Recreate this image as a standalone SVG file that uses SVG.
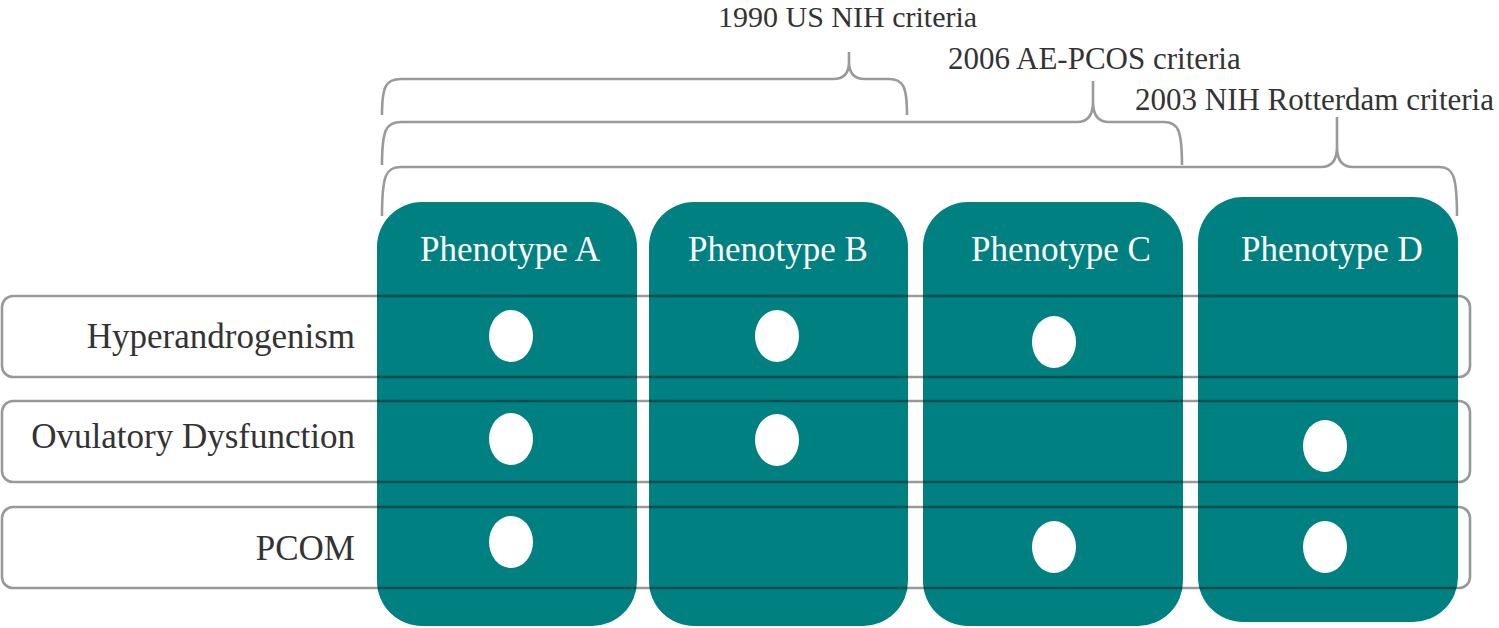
<svg xmlns="http://www.w3.org/2000/svg" width="1499" height="628" viewBox="0 0 1499 628">
<style>
.brace{fill:none;stroke:#9a9a9a;stroke-width:2.6;stroke-linecap:butt}
.crit{font-family:"Liberation Serif","Times New Roman",serif;font-size:31px;fill:#333}
.col{fill:#008080}
.ph{font-family:"Liberation Serif","Times New Roman",serif;font-size:35px;fill:#fff;text-anchor:middle}
.row{fill:none;stroke:#000;stroke-opacity:0.4;stroke-width:2.6}
.lbl{font-family:"Liberation Serif","Times New Roman",serif;font-size:35px;fill:#333;text-anchor:end}
.dot{fill:#fff}
</style>
<rect width="1499" height="628" fill="#fff"/>
<g id="connectors">
<path class="brace" d="M382,115 C382,86 386,79 401,79 L833,79 C845,79 849,72 849,62 L849,52 M849,62 C849,72 853,79 865,79 L889,79 C903,79 907,86 907,115"/>
<path class="brace" d="M382,165 C382,130 386,122 401,122 L1077,122 C1089,122 1093,114 1093,102 L1093,81 M1093,102 C1093,114 1097,122 1109,122 L1164,122 C1178,122 1182,130 1182,165"/>
<path class="brace" d="M382,216 C382,175 386,167 401,167 L1321,167 C1333,167 1337,159 1337,147 L1337,117 M1337,147 C1337,159 1341,167 1353,167 L1439,167 C1453,167 1457,175 1457,216"/>
</g>
<g id="criteria-labels">
<text class="crit" x="718" y="27" style="font-size:30px">1990 US NIH criteria</text>
<text class="crit" x="948" y="69">2006 AE-PCOS criteria</text>
<text class="crit" x="1135" y="110">2003 NIH Rotterdam criteria</text>
</g>
<g id="phenotype-A">
<rect class="col" x="377" y="202" width="260" height="424" rx="45" ry="45"/>
<text class="ph" x="510" y="261">Phenotype A</text>
</g>
<g id="phenotype-B">
<rect class="col" x="649" y="202" width="259" height="424" rx="45" ry="45"/>
<text class="ph" x="778" y="261">Phenotype B</text>
</g>
<g id="phenotype-C">
<rect class="col" x="923" y="202" width="260" height="424" rx="45" ry="45"/>
<text class="ph" x="1061" y="261">Phenotype C</text>
</g>
<g id="phenotype-D">
<rect class="col" x="1198" y="197" width="260" height="425" rx="45" ry="45"/>
<text class="ph" x="1332" y="261">Phenotype D</text>
</g>
<g id="row-hyperandrogenism">
<rect class="row" x="2" y="296" width="1468" height="81" rx="11" ry="11"/>
<text class="lbl" x="355" y="348">Hyperandrogenism</text>
</g>
<g id="row-ovulatory">
<rect class="row" x="2" y="401" width="1468" height="81" rx="11" ry="11"/>
<text class="lbl" x="355" y="448">Ovulatory Dysfunction</text>
</g>
<g id="row-pcom">
<rect class="row" x="2" y="507" width="1468" height="81" rx="11" ry="11"/>
<text class="lbl" x="355" y="560">PCOM</text>
</g>
<g id="dots">
<ellipse class="dot" cx="511" cy="336" rx="22" ry="26"/>
<ellipse class="dot" cx="511" cy="439" rx="22" ry="26"/>
<ellipse class="dot" cx="511" cy="542" rx="22" ry="26"/>
<ellipse class="dot" cx="777" cy="336" rx="22" ry="26"/>
<ellipse class="dot" cx="777" cy="440" rx="22" ry="26"/>
<ellipse class="dot" cx="1054" cy="342" rx="22" ry="26"/>
<ellipse class="dot" cx="1054" cy="547" rx="22" ry="26"/>
<ellipse class="dot" cx="1325" cy="446" rx="22" ry="26"/>
<ellipse class="dot" cx="1325" cy="547" rx="22" ry="26"/>
</g>
</svg>
